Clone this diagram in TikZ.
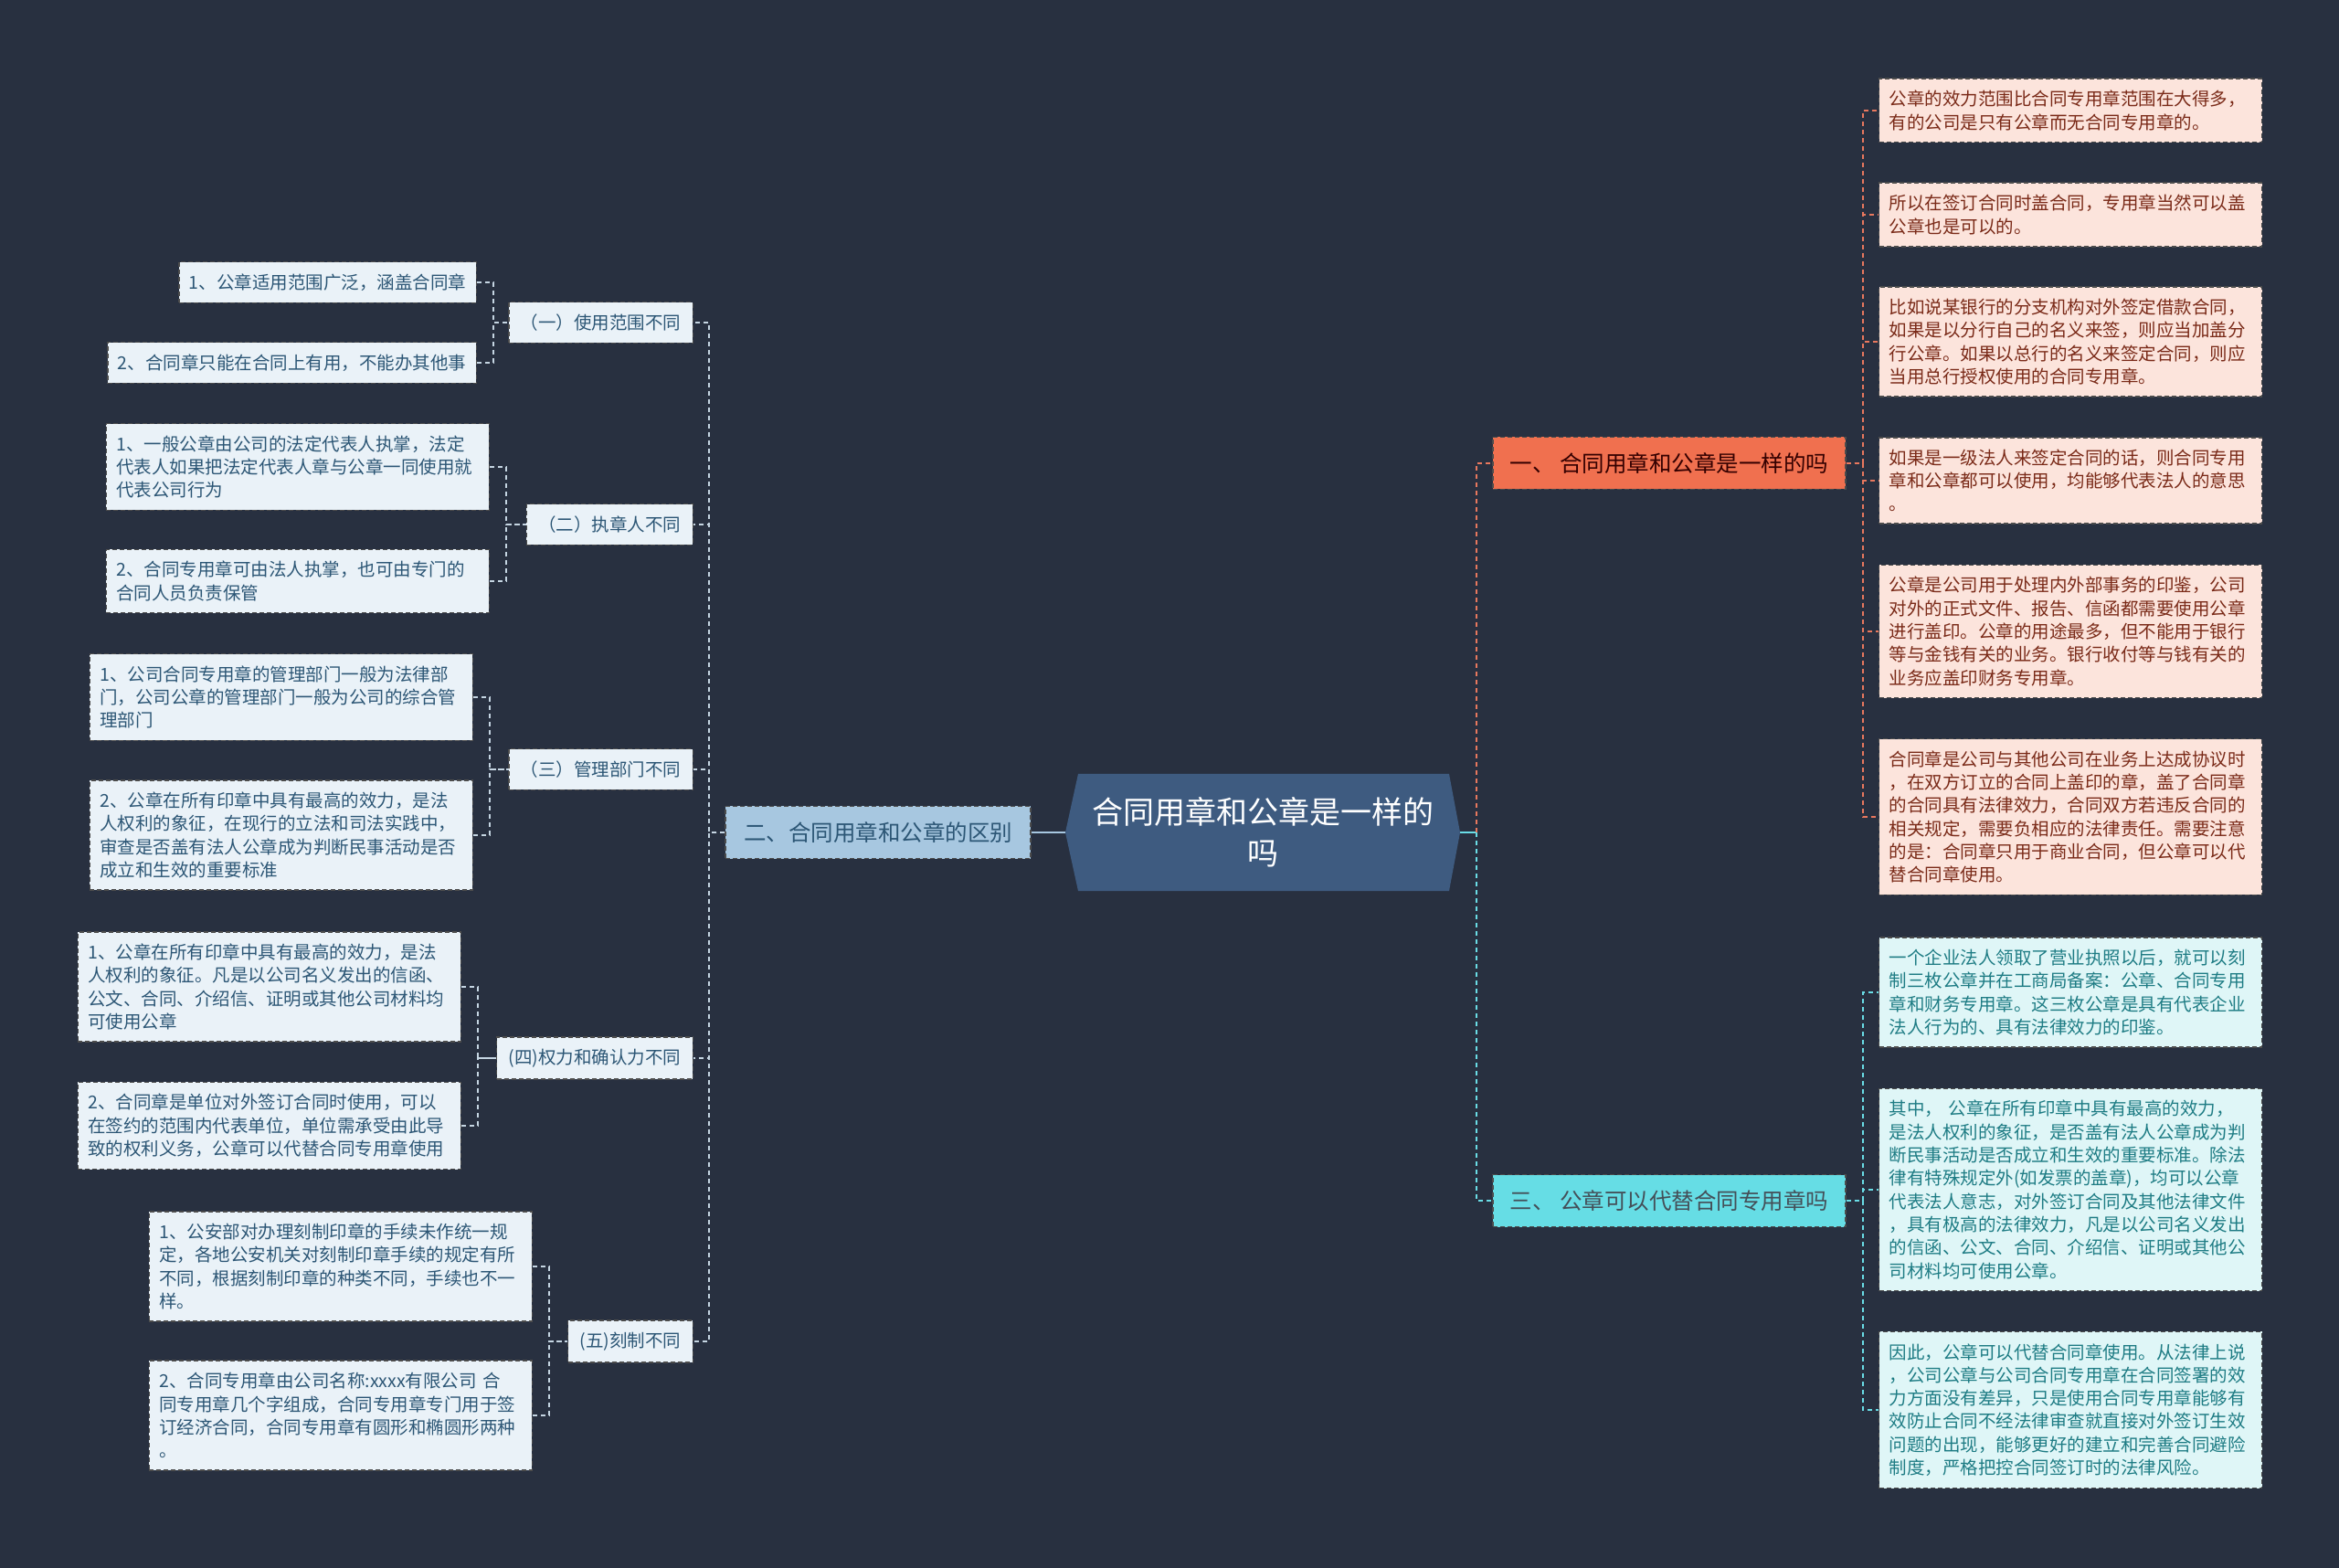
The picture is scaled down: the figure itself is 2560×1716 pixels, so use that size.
\documentclass[tikz,border=0pt]{standalone}
\usepackage{fontspec}
\newfontfamily\cjk{Noto Sans CJK SC}
\definecolor{bgcol}{HTML}{283040}
\definecolor{hubcol}{HTML}{3E5B80}
\definecolor{onecol}{HTML}{F0704F}
\definecolor{twocol}{HTML}{A7C7E0}
\definecolor{threecol}{HTML}{66DDE5}
\definecolor{redleaf}{HTML}{FCE4DC}
\definecolor{redtext}{HTML}{7A2A18}
\definecolor{cyanleaf}{HTML}{DFF6F7}
\definecolor{cyantext}{HTML}{1E7C84}
\definecolor{greyleaf}{HTML}{EAF2F8}
\definecolor{greytext}{HTML}{2C5675}
\definecolor{linkred}{HTML}{E8785E}
\definecolor{linkcyan}{HTML}{6ADDE6}
\definecolor{linkgrey}{HTML}{C5D5E2}

\begin{document}
\begin{tikzpicture}[x=0.5pt,y=-0.5pt,
  box/.style={draw=black!70,line width=0.7pt,dash pattern=on 2.5pt off 1.5pt,
    font=\cjk\fontsize{9.75}{12.65}\selectfont,inner ysep=6.5pt,inner xsep=5.5pt},
  leafr/.style={box,fill=redleaf,text=redtext,text width=198.5pt,align=left,anchor=west},
  leafc/.style={box,fill=cyanleaf,text=cyantext,text width=198.5pt,align=left,anchor=west},
  leafl/.style={box,fill=greyleaf,text=greytext,align=left,anchor=east},
  leafwide/.style={leafl,text width=198.5pt},
  subl/.style={box,fill=greyleaf,text=greytext,anchor=east,inner xsep=6.5pt},
  branch/.style={box,font=\cjk\fontsize{12.25}{15}\selectfont,minimum height=28.5pt,inner xsep=8pt},
  hub/.style={font=\cjk\fontsize{17}{22.5}\selectfont,text=white,align=center,
    minimum width=216pt,minimum height=64pt,inner xsep=0pt},
  lkred/.style={draw=linkred,line width=1pt,dash pattern=on 2.5pt off 2pt},
  lkcyan/.style={draw=linkcyan,line width=1pt,dash pattern=on 2.5pt off 2pt},
  lkgrey/.style={draw=linkgrey,line width=1pt,dash pattern=on 2.5pt off 2pt},
  hubln/.style={line width=1.2pt}]
  \useasboundingbox (0,0) rectangle (2560,1716);
  \fill[bgcol] (0,0) rectangle (2560,1716);

  % centre
  \fill[hubcol] (1166,911)--(1180,847)--(1586,847)--(1598,911)--(1586,975)--(1180,975)--cycle;
  \node[hub] (hub) at (1382,911) {合同用章和公章是一样的\\吗};

  % first level
  \node[branch,fill=onecol,text=black!80!red,minimum width=193pt] (b1) at (1827,507) {一、 合同用章和公章是一样的吗};
  \node[branch,fill=threecol,text=black!75!cyan,minimum width=193pt] (b3) at (1827,1314) {三、 公章可以代替合同专用章吗};
  \node[branch,fill=twocol,text=greytext,minimum width=167pt] (b2) at (961,911) {二、合同用章和公章的区别};

  % right side
  \node[leafr] (r1) at (2056,121) {公章的效力范围比合同专用章范围在大得多，\\有的公司是只有公章而无合同专用章的。};
  \node[leafr] (r2) at (2056,235) {所以在签订合同时盖合同，专用章当然可以盖\\公章也是可以的。};
  \node[leafr] (r3) at (2056,374) {比如说某银行的分支机构对外签定借款合同，\\如果是以分行自己的名义来签，则应当加盖分\\行公章。如果以总行的名义来签定合同，则应\\当用总行授权使用的合同专用章。};
  \node[leafr] (r4) at (2056,526) {如果是一级法人来签定合同的话，则合同专用\\章和公章都可以使用，均能够代表法人的意思\\。};
  \node[leafr] (r5) at (2056,691) {公章是公司用于处理内外部事务的印鉴，公司\\对外的正式文件、报告、信函都需要使用公章\\进行盖印。公章的用途最多，但不能用于银行\\等与金钱有关的业务。银行收付等与钱有关的\\业务应盖印财务专用章。};
  \node[leafr] (r6) at (2056,894) {合同章是公司与其他公司在业务上达成协议时\\，在双方订立的合同上盖印的章，盖了合同章\\的合同具有法律效力，合同双方若违反合同的\\相关规定，需要负相应的法律责任。需要注意\\的是：合同章只用于商业合同，但公章可以代\\替合同章使用。};
  \node[leafc] (c1) at (2056,1086) {一个企业法人领取了营业执照以后，就可以刻\\制三枚公章并在工商局备案：公章、合同专用\\章和财务专用章。这三枚公章是具有代表企业\\法人行为的、具有法律效力的印鉴。};
  \node[leafc] (c2) at (2056,1302) {其中， 公章在所有印章中具有最高的效力，\\是法人权利的象征，是否盖有法人公章成为判\\断民事活动是否成立和生效的重要标准。除法\\律有特殊规定外(如发票的盖章)，均可以公章\\代表法人意志，对外签订合同及其他法律文件\\，具有极高的法律效力，凡是以公司名义发出\\的信函、公文、合同、介绍信、证明或其他公\\司材料均可使用公章。};
  \node[leafc] (c3) at (2056,1543) {因此，公章可以代替合同章使用。从法律上说\\，公司公章与公司合同专用章在合同签署的效\\力方面没有差异，只是使用合同专用章能够有\\效防止合同不经法律审查就直接对外签订生效\\问题的出现，能够更好的建立和完善合同避险\\制度，严格把控合同签订时的法律风险。};

  % left side
  \node[subl] (s1) at (759,353) {（一）使用范围不同};
  \node[subl] (s2) at (759,574) {（二）执章人不同};
  \node[subl] (s3) at (759,842) {（三）管理部门不同};
  \node[subl] (s4) at (759,1158) {(四)权力和确认力不同};
  \node[subl] (s5) at (759,1468) {(五)刻制不同};

  \node[leafl] (l1a) at (522,309) {1、公章适用范围广泛，涵盖合同章};
  \node[leafl] (l1b) at (522,397) {2、合同章只能在合同上有用，不能办其他事};
  \node[leafwide] (l2a) at (536,511) {1、一般公章由公司的法定代表人执掌，法定\\代表人如果把法定代表人章与公章一同使用就\\代表公司行为};
  \node[leafwide] (l2b) at (536,636) {2、合同专用章可由法人执掌，也可由专门的\\合同人员负责保管};
  \node[leafwide] (l3a) at (518,763) {1、公司合同专用章的管理部门一般为法律部\\门，公司公章的管理部门一般为公司的综合管\\理部门};
  \node[leafwide] (l3b) at (518,914) {2、公章在所有印章中具有最高的效力，是法\\人权利的象征，在现行的立法和司法实践中，\\审查是否盖有法人公章成为判断民事活动是否\\成立和生效的重要标准};
  \node[leafwide] (l4a) at (505,1080) {1、公章在所有印章中具有最高的效力，是法\\人权利的象征。凡是以公司名义发出的信函、\\公文、合同、介绍信、证明或其他公司材料均\\可使用公章};
  \node[leafwide] (l4b) at (505,1232) {2、合同章是单位对外签订合同时使用，可以\\在签约的范围内代表单位，单位需承受由此导\\致的权利义务，公章可以代替合同专用章使用};
  \node[leafwide] (l5a) at (583,1386) {1、公安部对办理刻制印章的手续未作统一规\\定，各地公安机关对刻制印章手续的规定有所\\不同，根据刻制印章的种类不同，手续也不一\\样。};
  \node[leafwide] (l5b) at (583,1549) {2、合同专用章由公司名称:xxxx有限公司 合\\同专用章几个字组成，合同专用章专门用于签\\订经济合同，合同专用章有圆形和椭圆形两种\\。};

  % links
  \coordinate (jr) at ([xshift=9pt]hub.east);
  \draw[hubln,linkcyan] (hub.east) -- (jr);
  \draw[lkred] (jr) |- (b1.west);
  \draw[lkcyan] (jr) |- (b3.west);
  \foreach \n in {r1,r2,r3,r4,r5,r6} \draw[lkred] (b1.east) -- ++(18,0) |- (\n.west);
  \foreach \n in {c1,c2,c3} \draw[lkcyan] (b3.east) -- ++(18,0) |- (\n.west);

  \draw[hubln,twocol] (hub.west) -- (b2.east);
  \foreach \n in {s1,s2,s3,s4,s5} \draw[lkgrey] (b2.west) -- ++(-17,0) |- (\n.east);
  \foreach \s/\a/\b in {s1/l1a/l1b,s2/l2a/l2b,s3/l3a/l3b,s4/l4a/l4b,s5/l5a/l5b}{
    \draw[lkgrey] (\a.east) -- ++(18,0) |- (\s.west);
    \draw[lkgrey] (\b.east) -- ++(18,0) |- (\s.west);
  }
\end{tikzpicture}
\end{document}
